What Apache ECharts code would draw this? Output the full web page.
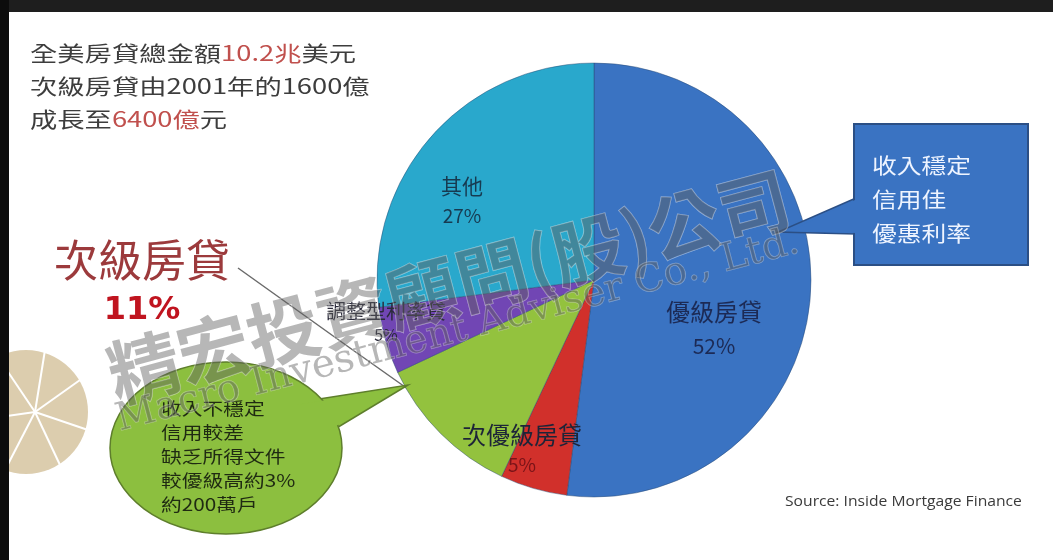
<!DOCTYPE html>
<html><head><meta charset="utf-8">
<script src="https://cdn.jsdelivr.net/npm/echarts@6/dist/echarts.min.js"></script>
<style>html,body{margin:0;padding:0;background:#fff}#c{width:1053px;height:560px}</style>
</head><body><div id="c"></div><script>
// ---- data ----
const categories = ['優級房貸', '次優級房貸', '次級房貸', '調整型利率貸', '其他'];
const shares = [52, 5, 11, 5, 27];
const headlineParts = [
  [['全美房貸總金額', 'k'], ['10.2兆', 'r'], ['美元', 'k']],
  [['次級房貸由2001年的1600億', 'k']],
  [['成長至', 'k'], ['6400億', 'r'], ['元', 'k']]
];
const primeNotes = ['收入穩定', '信用佳', '優惠利率'];
const subprimeNotes = ['收入不穩定', '信用較差', '缺乏所得文件', '較優級高約3%', '約200萬戶'];
const sourceNote = 'Source: Inside Mortgage Finance';
const watermarkCN = '精宏投資顧問(股)公司';
const watermarkEN = 'Macro Investment Adviser Co., Ltd.';

// ---- styles ----
const colors = ['#3A73C2', '#D1302B', '#93C23E', '#7146B4', '#29A8CC'];
const CJK = '"Noto Sans CJK TC", "Noto Sans CJK SC", sans-serif';
const labelPos = [
  { x: 714, y: 328 }, { x: 522, y: 450 }, { x: 142, y: 283 }, { x: 386, y: 322 }, { x: 462, y: 200 }
];
const labelRich = [
  { n: { fontSize: 24, color: '#1c2a55', fontFamily: CJK, lineHeight: 36 }, v: { fontSize: 21, color: '#1c2a55', fontFamily: CJK, lineHeight: 32 } },
  { n: { fontSize: 24, color: '#1d2438', fontFamily: CJK, lineHeight: 30 }, v: { fontSize: 19, color: '#7a1418', fontFamily: CJK, lineHeight: 30 } },
  { n: { fontSize: 44, color: '#9c3a3c', fontFamily: CJK, lineHeight: 56 }, v: { fontSize: 32, color: '#c0141f', fontWeight: 'bold', fontFamily: '"DejaVu Sans", sans-serif', lineHeight: 46 } },
  { n: { fontSize: 20, color: '#2a2a3a', fontFamily: CJK, lineHeight: 26 }, v: { fontSize: 16, color: '#2a2a3a', fontFamily: CJK, lineHeight: 22 } },
  { n: { fontSize: 21, color: '#173a50', fontFamily: CJK, lineHeight: 32 }, v: { fontSize: 19, color: '#173a50', fontFamily: CJK, lineHeight: 28 } }
];

const pieData = categories.map((name, i) => ({
  name, value: shares[i],
  itemStyle: { color: colors[i] },
  label: { show: true, position: i === 2 ? 'outside' : 'inside', formatter: '{n|{b}}\n{v|{c}%}', rich: labelRich[i] },
  labelLine: { show: i === 2, lineStyle: { color: '#6b6b6b', width: 1.5 } }
}));

const headlineGraphics = headlineParts.map((parts, li) => ({
  type: 'text', x: 30, y: 43 + li * 33, scaleX: 1.3, z: 60,
  style: {
    text: parts.map(p => '{' + p[1] + '|' + p[0] + '}').join(''),
    rich: {
      k: { fontSize: 21, fontFamily: CJK, fill: '#3d3d3d' },
      r: { fontSize: 21, fontFamily: CJK, fill: '#c0504d' }
    }
  }
}));

const starRays = [[80, 380], [88, 430], [60, 465], [5, 470], [-20, 420], [0, 360], [45, 350]].map(p => ({
  type: 'line', z: 6, shape: { x1: 35, y1: 412, x2: p[0], y2: p[1] }, style: { stroke: '#ffffff', lineWidth: 2 }
}));

const chart = echarts.init(document.getElementById('c'), null, { renderer: 'canvas' });
chart.setOption({
  backgroundColor: '#ffffff',
  animation: false,
  series: [{
    type: 'pie',
    center: [594, 280],
    radius: [0, 217],
    startAngle: 90,
    clockwise: true,
    data: pieData,
    itemStyle: { borderColor: 'rgba(40,70,110,0.45)', borderWidth: 1 },
    label: { show: true },
    labelLayout: function (p) {
      const pos = labelPos[p.dataIndex];
      const out = { x: pos.x, y: pos.y, align: 'center', verticalAlign: 'middle' };
      if (p.dataIndex === 2) {
        out.labelLinePoints = [[238, 268], [350, 348], [463, 428]];
      }
      return out;
    }
  }],
  graphic: [
    // logo watermark
    { type: 'circle', z: 5, shape: { cx: 26, cy: 412, r: 62 }, style: { fill: 'rgba(214,196,160,0.85)' } },
    ...starRays,
    // headline
    ...headlineGraphics,
    // prime callout box
    { type: 'polygon', z: 50, shape: { points: [[856, 198], [778, 232], [856, 234]] }, style: { fill: '#3A73C2', stroke: '#2b4f85', lineWidth: 1.5 } },
    { type: 'rect', z: 50, shape: { x: 854, y: 124, width: 174, height: 141 }, style: { fill: '#3A73C2', stroke: '#2b4f85', lineWidth: 2 } },
    { type: 'polygon', z: 51, shape: { points: [[857, 199], [790, 231], [857, 233]] }, style: { fill: '#3A73C2' } },
    { type: 'text', z: 52, x: 872, y: 148, scaleX: 1.18, style: { text: primeNotes.join('\n'), fontSize: 21, lineHeight: 34, fontFamily: CJK, fill: '#eef4ff' } },
    // subprime bubble
    { type: 'polygon', z: 50, shape: { points: [[300, 402], [408, 385], [330, 432]] }, style: { fill: '#8CBF3F', stroke: '#5e7e2c', lineWidth: 1.5 } },
    { type: 'ellipse', z: 50, shape: { cx: 226, cy: 448, rx: 116, ry: 86 }, style: { fill: '#8CBF3F', stroke: '#5e7e2c', lineWidth: 1.5 } },
    { type: 'polygon', z: 51, shape: { points: [[296, 405], [400, 388], [326, 432]] }, style: { fill: '#8CBF3F' } },
    { type: 'text', z: 52, x: 161, y: 397, scaleX: 1.22, style: { text: subprimeNotes.join('\n'), fontSize: 17, lineHeight: 24, fontFamily: CJK, fill: '#1f2a12' } },
    // source
    { type: 'text', z: 60, x: 785, y: 495, scaleX: 1.12, style: { text: sourceNote, fontSize: 14, fontFamily: '"Open Sans", sans-serif', fill: '#3a3a3a' } },
    // watermark
    { type: 'text', z: 90, x: 100, y: 342, rotation: 0.26, style: { text: watermarkCN, fontSize: 72, fontWeight: 'bold', fontFamily: CJK, fill: 'rgba(95,95,95,0.45)', stroke: 'rgba(255,255,255,0.45)', lineWidth: 1 } },
    { type: 'text', z: 90, x: 112, y: 402, rotation: 0.257, style: { text: watermarkEN, fontSize: 39, fontFamily: '"DejaVu Serif", "Liberation Serif", serif', fill: 'rgba(95,95,95,0.45)', stroke: 'rgba(255,255,255,0.35)', lineWidth: 1 } },
    // dark frame
    { type: 'rect', z: 100, shape: { x: 0, y: 0, width: 1053, height: 12 }, style: { fill: '#1e1e1e' } },
    { type: 'rect', z: 100, shape: { x: 0, y: 0, width: 9, height: 560 }, style: { fill: '#0c0c0c' } }
  ]
});
</script></body></html>
